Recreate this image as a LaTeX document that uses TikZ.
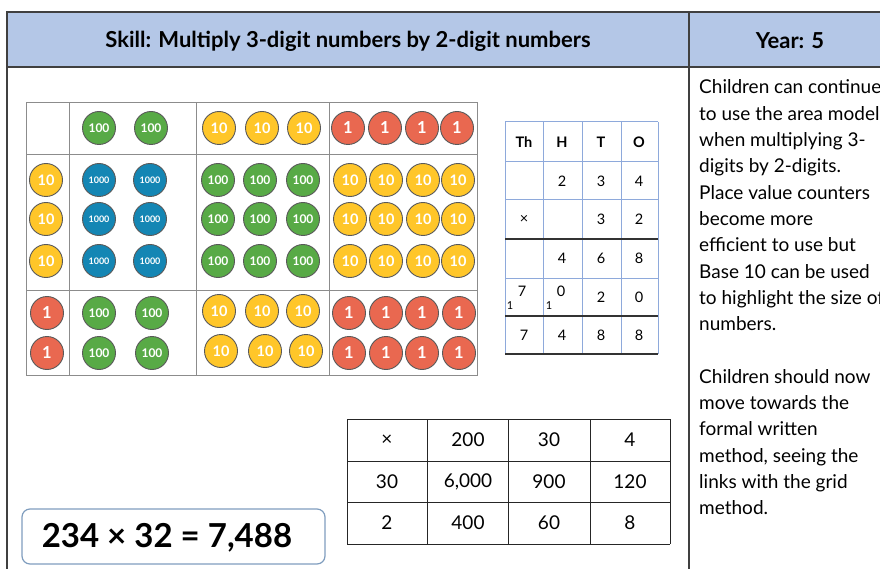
\documentclass[tikz,border=0pt]{standalone}
\usepackage{fontspec}
\setmainfont{Lato}
\definecolor{hdrblue}{RGB}{180,199,231}
\definecolor{ctrgreen}{RGB}{88,170,70}
\definecolor{ctryellow}{RGB}{255,198,41}
\definecolor{ctrblue}{RGB}{20,134,180}
\definecolor{ctrred}{RGB}{233,104,80}
\definecolor{pvline}{RGB}{142,169,219}
\definecolor{eqline}{RGB}{127,157,190}
\tikzset{
  ctr/.style={circle, draw=black!65, line width=0.9pt, minimum size=33pt, inner sep=0pt, text=white},
  pvthou/.style={ctr, fill=ctrblue, font=\bfseries\fontsize{9}{9}\selectfont},
  pvhund/.style={ctr, fill=ctrgreen, font=\bfseries\fontsize{12}{12}\selectfont},
  pvten/.style={ctr, fill=ctryellow, font=\bfseries\fontsize{14.5}{14.5}\selectfont},
  pvone/.style={ctr, fill=ctrred, font=\bfseries\fontsize{16.5}{16.5}\selectfont},
  cell/.style={font=\fontsize{14.5}{14.5}\selectfont},
  gcell/.style={font=\fontsize{19}{19}\selectfont},
  body/.style={anchor=base west, inner sep=0pt, font=\fontsize{19}{19}\selectfont}
}
\begin{document}
\begin{tikzpicture}[x=1pt, y=-1pt]
  \useasboundingbox (0,0) rectangle (880,569);
  \clip (0,0) rectangle (880,569);
  % header band and frame
  \fill[hdrblue] (7,12) rectangle (895,67);
  \draw[black!75, line width=1.3pt] (7,12) rectangle (895,585);
  \draw[black!75, line width=1.3pt] (7,67) -- (895,67);
  \draw[black!75, line width=1.3pt] (689,12) -- (689,585);
  \node[font=\bfseries\fontsize{22}{22}\selectfont] (skill) at (348,41) {Skill: Multiply 3-digit numbers by 2-digit numbers};
  \node[font=\bfseries\fontsize{22}{22}\selectfont] (year) at (790,41) {Year: 5};

  % area model grid
  \draw[black!45, line width=1pt] (26,103) rectangle (477,375);
  \foreach \x in {69,196,329} \draw[black!45, line width=1pt] (\x,103) -- (\x,375);
  \foreach \y in {155,290} \draw[black!45, line width=1pt] (26,\y) -- (477,\y);

  % counters
  \foreach \x/\y [count=\i] in {99/180,150/180,99/219,150/219,99/261,150/261}
    \node[pvthou] (thou\i) at (\x,\y) {1000};
  \foreach \x/\y [count=\i] in {99/128,151/128,218/180,260/180,303/180,218/219,260/219,303/219,
      218/261,260/261,303/261,99/313,152/313,99/353,152/353}
    \node[pvhund] (hund\i) at (\x,\y) {100};
  \foreach \x/\y [count=\i] in {219/128,262/128,304/128,46/180,46/219,46/261,
      350/180,386/180,423/180,458/180,350/219,386/219,423/219,458/219,
      350/261,386/261,423/261,458/261,219/311,262/311,303/311,221/351,265/351,306/351}
    \node[pvten] (ten\i) at (\x,\y) {10};
  \foreach \x/\y [count=\i] in {348/128,385/128,422/128,457/128,47/313,47/353,
      349/313,386/313,422/313,459/313,349/353,386/353,422/353,459/353}
    \node[pvone] (one\i) at (\x,\y) {1};

  % column method
  \foreach \x in {505,543,582,621,658} \draw[pvline, line width=1pt] (\x,122) -- (\x,354);
  \foreach \y in {122,162,200,278} \draw[pvline, line width=1pt] (505,\y) -- (658,\y);
  \foreach \y in {239,316,354} \draw[black!80, line width=2pt] (505,\y) -- (658,\y);
  \node[cell, font=\bfseries\fontsize{14.5}{14.5}\selectfont] (th) at (524,142) {Th};
  \node[cell, font=\bfseries\fontsize{14.5}{14.5}\selectfont] (hh) at (562,142) {H};
  \node[cell, font=\bfseries\fontsize{14.5}{14.5}\selectfont] (tt) at (601,142) {T};
  \node[cell, font=\bfseries\fontsize{14.5}{14.5}\selectfont] (oo) at (639,142) {O};
  \node[cell] (a2) at (562,181) {2};
  \node[cell] (a3) at (601,181) {3};
  \node[cell] (a4) at (639,181) {4};
  \node[cell] (bx) at (524,219) {×};
  \node[cell] (b3) at (601,219) {3};
  \node[cell] (b2) at (639,219) {2};
  \node[cell] (c4) at (562,258) {4};
  \node[cell] (c6) at (601,258) {6};
  \node[cell] (c8) at (639,258) {8};
  \node[cell, font=\fontsize{11}{11}\selectfont] (dc1) at (510,306) {1};
  \node[cell] (d7) at (522,291) {7};
  \node[cell, font=\fontsize{11}{11}\selectfont] (dc2) at (549,306) {1};
  \node[cell] (d0) at (561,291) {0};
  \node[cell] (d2) at (601,297) {2};
  \node[cell] (dz) at (639,297) {0};
  \node[cell] (e7) at (524,335) {7};
  \node[cell] (e4) at (562,335) {4};
  \node[cell] (e8) at (601,335) {8};
  \node[cell] (ee) at (639,335) {8};

  % grid method
  \foreach \x in {347,427,508,590,670} \draw[black!85, line width=1pt] (\x,419) -- (\x,544);
  \foreach \y in {419,461,502,544} \draw[black!85, line width=1pt] (347,\y) -- (670,\y);
  \foreach \t [count=\i from 0] in {×,200,30,4}
    \node[gcell] (g0\i) at (387+81*\i,440) {\t};
  \foreach \t [count=\i from 0] in {30,{6,000},900,120}
    \node[gcell] (g1\i) at (387+81*\i,481.5) {\t};
  \foreach \t [count=\i from 0] in {2,400,60,8}
    \node[gcell] (g2\i) at (387+81*\i,523) {\t};

  % equation
  \draw[eqline, line width=1.2pt, rounded corners=8pt] (22,509) rectangle (325,564);
  \node[font=\bfseries\fontsize{33}{33}\selectfont] (eq) at (167,538) {234 × 32 = 7,488};

  % notes
  \foreach \t [count=\i from 0] in {Children can continue, to use the area model, when multiplying 3-,
      digits by 2-digits., Place value counters, become more, efficient to use but,
      Base 10 can be used, to highlight the size of, numbers., {},
      Children should now, move towards the, formal written, {method, seeing the},
      links with the grid, method.}
    \node[body] (note\i) at (699,94+26.3*\i) {\t};
\end{tikzpicture}
\end{document}
